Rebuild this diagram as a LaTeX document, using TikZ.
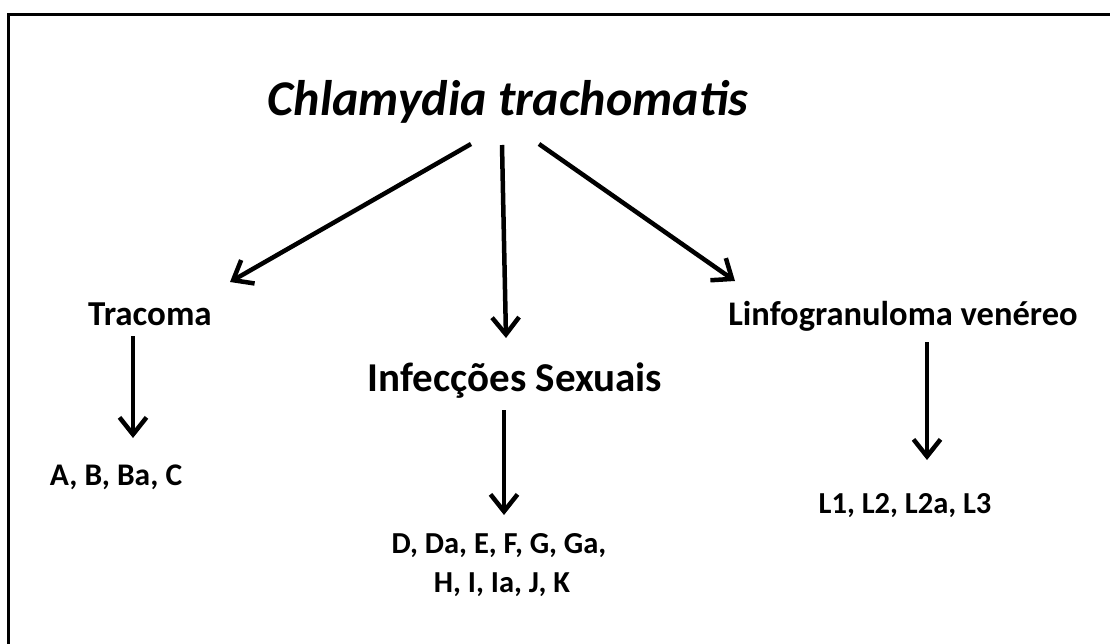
\documentclass[tikz,border=0pt]{standalone}
\usepackage{fontspec}
\setmainfont{Carlito}
\usetikzlibrary{arrows.meta}
\begin{document}
\begin{tikzpicture}[x=1pt,y=-1pt,
  lbl/.style={font=\bfseries\fontsize{#1}{#1}\selectfont, inner sep=0pt, anchor=base},
  arr/.style={line width=4.5pt, -{Straight Barb[length=17pt,width=27pt,line width=4.5pt]}}]
\useasboundingbox (0,0) rectangle (1110,644);
\draw[line width=3pt] (8,644) -- (8,15) -- (1110,15);
\node[lbl=50, font=\bfseries\itshape\fontsize{50}{50}\selectfont] (title) at (508,116) {Chlamydia trachomatis};
\node[lbl=35] (trac) at (150,325) {Tracoma};
\node[lbl=41] (inf) at (515,391) {Infecções Sexuais};
\node[lbl=34.5] (lgv) at (903,325) {Linfogranuloma venéreo};
\node[lbl=31.5] (abc) at (116,485) {A, B, Ba, C};
\node[lbl=30.5] (dk1) at (499,553) {D, Da, E, F, G, Ga,};
\node[lbl=30.5] (dk2) at (502,592) {H, I, Ia, J, K};
\node[lbl=30.5] (lx) at (905,513) {L1, L2, L2a, L3};
\coordinate (s1) at (471,144);
\coordinate (e1) at (230,282);
\coordinate (s2) at (502,145);
\coordinate (e2) at (506,338);
\coordinate (s3) at (539,144);
\coordinate (e3) at (735,281);
\coordinate (s4) at (133,336);
\coordinate (e4) at (133,438);
\coordinate (s5) at (504,410);
\coordinate (e5) at (504,515);
\coordinate (s6) at (927,342);
\coordinate (e6) at (927,460);
\draw[arr] (s1) -- (e1);
\draw[arr] (s2) -- (e2);
\draw[arr] (s3) -- (e3);
\draw[arr] (s4) -- (e4);
\draw[arr] (s5) -- (e5);
\draw[arr] (s6) -- (e6);
\end{tikzpicture}
\end{document}
